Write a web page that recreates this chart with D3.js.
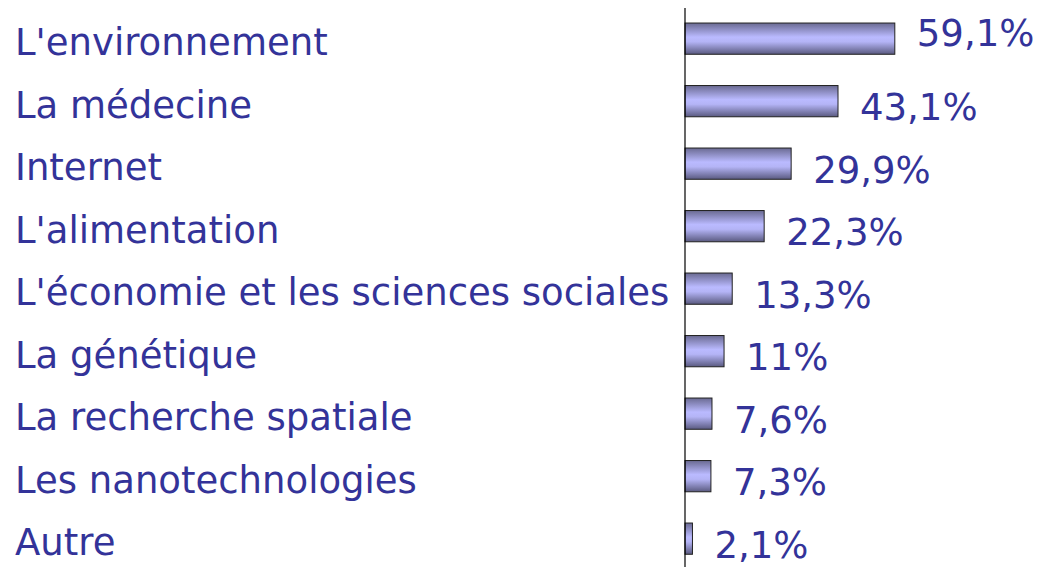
<!DOCTYPE html>
<html>
<head>
<meta charset="utf-8">
<script src="https://cdn.jsdelivr.net/npm/d3@7"></script>
<style>
  body { margin: 0; background: #fff; }
  text { font-family: "DejaVu Sans", Verdana, sans-serif; fill: #333399; }
</style>
</head>
<body>
<div id="chart"></div>
<script>
var categories = ["L'environnement", "La médecine", "Internet", "L'alimentation",
  "L'économie et les sciences sociales", "La génétique", "La recherche spatiale",
  "Les nanotechnologies", "Autre"];
var values = [59.1, 43.1, 29.9, 22.3, 13.3, 11, 7.6, 7.3, 2.1];
var valueLabels = ["59,1%", "43,1%", "29,9%", "22,3%", "13,3%", "11%", "7,6%", "7,3%", "2,1%"];

var w = 1041, h = 567;
var axisX = 685;

var svg = d3.select("#chart")
    .append("svg")
    .attr("width", w)
    .attr("height", h);

// cylinder-like shading of the bars
var grad = svg.append("defs").append("linearGradient")
    .attr("id", "barfill")
    .attr("x1", 0).attr("y1", 0).attr("x2", 0).attr("y2", 1);
grad.append("stop").attr("offset", "0%").attr("stop-color", "#6a6a92");
grad.append("stop").attr("offset", "45%").attr("stop-color", "#babaff");
grad.append("stop").attr("offset", "60%").attr("stop-color", "#b4b4f6");
grad.append("stop").attr("offset", "100%").attr("stop-color", "#5a5a80");

var xScale = d3.scaleLinear()
    .domain([0, 60])
    .range([axisX, axisX + 213]);

var yScale = d3.scaleBand()
    .domain(categories)
    .range([7.4, 569.9])
    .paddingInner(0.5)
    .paddingOuter(0.25);

var data = categories.map(function(c, i) {
    return {cat: c, val: values[i], label: valueLabels[i]};
});

// category labels
svg.selectAll("text.cat")
    .data(data)
    .enter()
    .append("text")
    .attr("class", "cat")
    .attr("x", 15)
    .attr("y", function(d) { return yScale(d.cat) + 32; })
    .attr("font-size", 37)
    .text(function(d) { return d.cat; });

// bars
svg.selectAll("rect")
    .data(data)
    .enter()
    .append("rect")
    .attr("x", xScale(0))
    .attr("y", function(d) { return yScale(d.cat); })
    .attr("width", function(d) { return xScale(d.val) - xScale(0); })
    .attr("height", yScale.bandwidth())
    .attr("fill", "url(#barfill)")
    .attr("stroke", "#222")
    .attr("stroke-width", 1);

// vertical axis line
svg.append("line")
    .attr("x1", axisX).attr("x2", axisX)
    .attr("y1", 8).attr("y2", h)
    .attr("stroke", "#000")
    .attr("stroke-width", 1.2);

// value labels
svg.selectAll("text.val")
    .data(data)
    .enter()
    .append("text")
    .attr("class", "val")
    .attr("x", function(d) { return xScale(d.val) + 22; })
    .attr("y", function(d, i) {
        var mid = yScale(d.cat) + yScale.bandwidth() / 2;
        return i == 0 ? mid + 7 : mid + 19;
    })
    .attr("font-size", 37)
    .text(function(d) { return d.label; });
</script>
</body>
</html>
